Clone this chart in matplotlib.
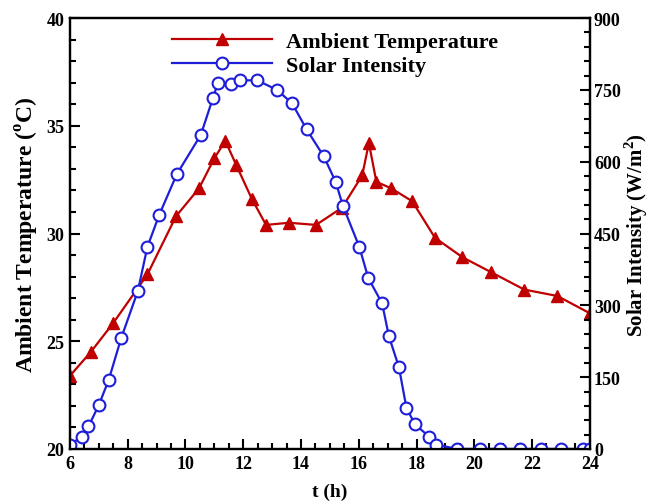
import matplotlib
matplotlib.use("Agg")
import matplotlib.pyplot as plt
from matplotlib.ticker import MultipleLocator

plt.rcParams['font.family'] = ['Liberation Serif', 'DejaVu Serif']
plt.rcParams['font.weight'] = 'bold'
plt.rcParams['mathtext.fontset'] = 'custom'
plt.rcParams['mathtext.rm'] = 'Liberation Serif:bold'

# ambient temperature (deg C)
t_temp = [6.0, 6.72, 7.5, 8.68, 9.67, 10.47, 11.0, 11.38, 11.75, 12.3, 12.79,
          13.58, 14.52, 15.42, 16.12, 16.35, 16.61, 17.12, 17.85, 18.64,
          19.59, 20.59, 21.73, 22.88, 24.0]
temp = [23.4, 24.5, 25.85, 28.1, 30.8, 32.1, 33.5, 34.3, 33.2, 31.6, 30.4,
        30.5, 30.4, 31.2, 32.7, 34.2, 32.4, 32.1, 31.5, 29.8,
        28.9, 28.2, 27.4, 27.1, 26.3]

# solar intensity (W/m2)
t_sol = [6.0, 6.4, 6.64, 7.0, 7.34, 7.77, 8.35, 8.68, 9.09, 9.7, 10.53, 10.95,
         11.12, 11.58, 11.9, 12.48, 13.17, 13.69, 14.19, 14.79, 15.2, 15.45,
         16.02, 16.33, 16.81, 17.04, 17.39, 17.65, 17.94, 18.43, 18.69,
         19.41, 20.19, 20.9, 21.59, 22.31, 23.0, 23.75, 24.0]
solar = [8, 26, 47, 92, 144, 231, 330, 422, 489, 574, 656, 733,
         764, 762, 770, 770, 750, 722, 668, 611, 558, 508,
         422, 357, 304, 236, 171, 86, 52, 26, 9,
         0, 0, 0, 0, 0, 0, 0, 0]

red = '#c00000'
blue = '#1e1ed8'

fig = plt.figure(figsize=(6.51, 5.02), dpi=100)
ax = fig.add_axes([0.1075, 0.1036, 0.7985, 0.8584])
ax2 = ax.twinx()

l1, = ax.plot(t_temp, temp, color=red, lw=1.6, marker='^', ms=8,
              label='Ambient Temperature')
l2, = ax2.plot(t_sol, solar, color=blue, lw=1.6, marker='o', ms=8.5,
               mfc='white', mec=blue, mew=1.5, label='Solar Intensity')

ax.set_xlim(6, 24)
ax.set_ylim(20, 40)
ax2.set_ylim(0, 900)

ax.xaxis.set_major_locator(MultipleLocator(2))
ax.xaxis.set_minor_locator(MultipleLocator(0.5))
ax.yaxis.set_major_locator(MultipleLocator(5))
ax.yaxis.set_minor_locator(MultipleLocator(1))
ax2.yaxis.set_major_locator(MultipleLocator(150))
ax2.yaxis.set_minor_locator(MultipleLocator(30))

for a in (ax, ax2):
    a.tick_params(which='both', direction='in', labelsize=13, width=1.5)
    a.tick_params(which='major', length=7, pad=4)
    a.tick_params(which='minor', length=4)
    for s in a.spines.values():
        s.set_linewidth(1.6)
ax.tick_params(which='both', top=False, right=False)
ax2.tick_params(axis='y', pad=3)

ax.set_xlabel('t (h)', fontsize=14, fontweight='bold', labelpad=8)
ax.set_ylabel('Ambient Temperature ($^{\\mathrm{o}}$C)', fontsize=17,
              fontweight='bold', labelpad=4)
ax2.set_ylabel('Solar Intensity (W/m$^{2}$)', fontsize=15,
               fontweight='bold', labelpad=1)

ax2.legend([l1, l2], ['Ambient Temperature', 'Solar Intensity'],
           loc='upper center', bbox_to_anchor=(0.51, 1.015), frameon=False,
           handlelength=4.5, handletextpad=0.6, labelspacing=0.15,
           prop={'weight': 'bold', 'size': 16})

fig.savefig('out.png', dpi=100)
